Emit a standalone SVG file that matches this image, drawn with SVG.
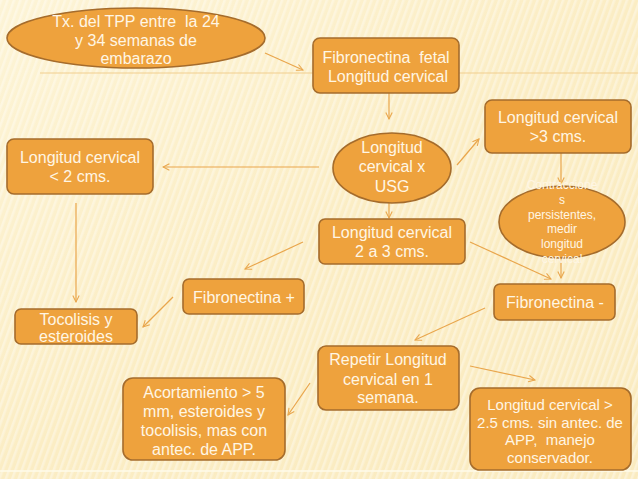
<svg xmlns="http://www.w3.org/2000/svg" width="638" height="479" viewBox="0 0 638 479">
<defs>
<linearGradient id="bg" x1="0" y1="0" x2="1" y2="1">
<stop offset="0" stop-color="#FDF4D6"/>
<stop offset="0.5" stop-color="#FBEDC4"/>
<stop offset="1" stop-color="#FAEBC0"/>
</linearGradient>
<pattern id="stripes" width="6" height="6" patternUnits="userSpaceOnUse" patternTransform="rotate(20)">
<rect x="0" y="0" width="2.5" height="6" fill="#FFFFFF" opacity="0.35"/>
</pattern>
<marker id="arr" viewBox="0 0 10 10" refX="9" refY="5" markerWidth="8" markerHeight="8" markerUnits="userSpaceOnUse" orient="auto">
<path d="M1,1 L9,5 L1,9" fill="none" stroke="#E9A64C" stroke-width="1.3"/>
</marker>
<style>
.box{fill:#EEA23D;stroke:#A56C2C;stroke-width:1.6}
.t{font-family:"Liberation Sans",Arial,sans-serif;font-size:16px;fill:#FFF6E4;text-anchor:middle;white-space:pre}
.s{font-size:12px}
.m{font-size:15px}
.c{fill:none;stroke:#E9A64C;stroke-width:1.2;marker-end:url(#arr)}
</style>
</defs>
<rect width="638" height="479" fill="url(#bg)"/>
<rect width="638" height="479" fill="url(#stripes)"/>
<line x1="40" y1="73" x2="638" y2="73" stroke="#F1CE8E" stroke-width="1"/>
<line x1="0" y1="471" x2="638" y2="471" stroke="#FFFBEA" stroke-width="1.5"/>

<g id="connectors">
<line class="c" x1="265" y1="53" x2="303" y2="70"/>
<line class="c" x1="389" y1="93" x2="389" y2="119"/>
<line class="c" x1="457" y1="165" x2="479" y2="139"/>
<line class="c" x1="561" y1="153" x2="561" y2="184"/>
<line class="c" x1="561" y1="258" x2="561" y2="278"/>
<line class="c" x1="389" y1="203" x2="389" y2="218"/>
<line class="c" x1="470" y1="242" x2="551" y2="279"/>
<line class="c" x1="319" y1="167" x2="163" y2="167"/>
<line class="c" x1="76" y1="203" x2="76" y2="302"/>
<line class="c" x1="303" y1="242" x2="245" y2="269"/>
<line class="c" x1="173" y1="297" x2="143" y2="327"/>
<line class="c" x1="485" y1="308" x2="415" y2="340"/>
<line class="c" x1="470" y1="366" x2="535" y2="380"/>
<line class="c" x1="310" y1="383" x2="288" y2="415"/>
</g>

<g id="n1">
<ellipse class="box" cx="136" cy="38" rx="129" ry="30"/>
<text class="t" x="136" y="27" xml:space="preserve">Tx. del TPP entre  la 24</text>
<text class="t" x="136" y="45.5">y 34 semanas de</text>
<text class="t" x="136" y="64">embarazo</text>
</g>

<g id="n2">
<rect class="box" x="313" y="38" width="146" height="55" rx="7"/>
<text class="t" x="386" y="63" xml:space="preserve">Fibronectina  fetal</text>
<text class="t" x="388" y="82">Longitud cervical</text>
</g>

<g id="n3">
<ellipse class="box" cx="392" cy="168" rx="59" ry="35"/>
<text class="t" x="392" y="153">Longitud</text>
<text class="t" x="392" y="172">cervical x</text>
<text class="t" x="392" y="192">USG</text>
</g>

<g id="n4">
<rect class="box" x="485" y="100" width="146" height="53" rx="7"/>
<text class="t" x="558" y="123">Longitud cervical</text>
<text class="t" x="558" y="142">&gt;3 cms.</text>
</g>

<g id="n5">
<ellipse class="box" cx="562" cy="222" rx="63" ry="36"/>
<text class="t s" x="562" y="189">Contraccione</text>
<text class="t s" x="562" y="204">s</text>
<text class="t s" x="562" y="219">persistentes,</text>
<text class="t s" x="562" y="233">medir</text>
<text class="t s" x="562" y="248">longitud</text>
<text class="t s" x="562" y="263">cervical</text>
</g>

<g id="n6">
<rect class="box" x="319" y="219" width="146" height="45" rx="6"/>
<text class="t" x="392" y="238">Longitud cervical</text>
<text class="t" x="392" y="257">2 a 3 cms.</text>
</g>

<g id="n7">
<rect class="box" x="7" y="139" width="146" height="55" rx="7"/>
<text class="t" x="80" y="163">Longitud cervical</text>
<text class="t" x="80" y="182">&lt; 2 cms.</text>
</g>

<g id="n8">
<rect class="box" x="15" y="309" width="122" height="35" rx="6"/>
<text class="t" x="76" y="325">Tocolisis y</text>
<text class="t" x="76" y="342">esteroides</text>
</g>

<g id="n9">
<rect class="box" x="183" y="279" width="121" height="35" rx="6"/>
<text class="t" x="244" y="303">Fibronectina +</text>
</g>

<g id="n10">
<rect class="box" x="494" y="284" width="121" height="36" rx="6"/>
<text class="t" x="555" y="308">Fibronectina -</text>
</g>

<g id="n11">
<rect class="box" x="318" y="346" width="141" height="64" rx="8"/>
<text class="t" x="388" y="365">Repetir Longitud</text>
<text class="t" x="388" y="385">cervical en 1</text>
<text class="t" x="388" y="403">semana.</text>
</g>

<g id="n12">
<rect class="box" x="470" y="388" width="161" height="82" rx="10"/>
<text class="t m" x="550" y="410">Longitud cervical &gt;</text>
<text class="t m" x="550" y="428">2.5 cms. sin antec. de</text>
<text class="t m" x="550" y="445" xml:space="preserve">APP,  manejo</text>
<text class="t m" x="550" y="463">conservador.</text>
</g>

<g id="n13">
<rect class="box" x="123" y="378" width="162" height="82" rx="10"/>
<text class="t" x="204" y="398">Acortamiento &gt; 5</text>
<text class="t" x="204" y="417">mm, esteroides y</text>
<text class="t" x="204" y="436">tocolisis, mas con</text>
<text class="t" x="204" y="455">antec. de APP.</text>
</g>
</svg>
